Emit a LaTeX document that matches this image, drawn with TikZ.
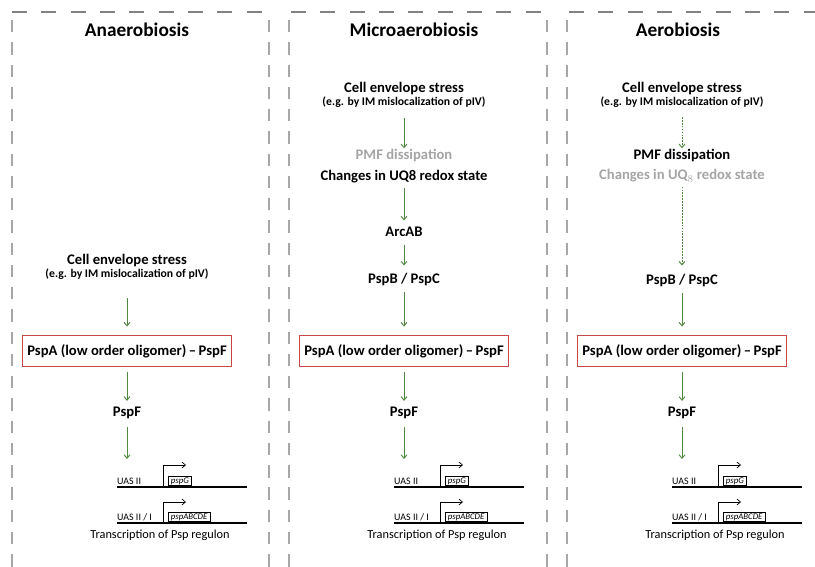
\documentclass[tikz,border=0pt]{standalone}
\usepackage{fontspec}
\setmainfont{Carlito}
\usepackage{xcolor}
\usetikzlibrary{arrows.meta, positioning}

\definecolor{arrowgreen}{RGB}{80,135,65}
\definecolor{boxred}{RGB}{200,70,70}
\definecolor{fadedgray}{RGB}{165,165,165}
\definecolor{framegray}{RGB}{130,130,130}

\begin{document}
\begin{tikzpicture}[>={Straight Barb[length=3pt,width=5pt]}, x=0.03cm, y=-0.03cm,
  title/.style={font=\fontsize{16.5}{20}\selectfont\bfseries, inner sep=0pt},
  label/.style={font=\fontsize{12.5}{14}\selectfont\bfseries, inner sep=0pt},
  faded/.style={label, text=fadedgray},
  eg/.style={font=\fontsize{10}{12}\selectfont\bfseries, inner sep=0pt},
  complex/.style={draw=boxred, line width=1pt, minimum width=178pt, minimum height=27pt,
    font=\fontsize{12.5}{14}\selectfont\bfseries, inner sep=0pt},
  gene/.style={draw, line width=0.5pt, font=\fontsize{7.5}{8}\selectfont\itshape,
    inner xsep=2.2pt, inner ysep=1pt, anchor=south west},
  uas/.style={font=\fontsize{8.5}{9}\selectfont, anchor=base west, inner sep=0pt},
  note/.style={font=\fontsize{10.5}{12}\selectfont, inner sep=0pt},
  garrow/.style={->, draw=arrowgreen, line width=0.8pt},
  darrow/.style={garrow, dash pattern=on 1.5pt off 1pt},
  dna/.style={line width=1.8pt},
  prom/.style={->, line width=0.6pt},
  frametop/.style={draw=framegray, line width=1.2pt, dash pattern=on 12.75pt off 12.3pt},
  frameside/.style={draw=framegray!70, line width=1pt, dash pattern=on 10.5pt off 8.5pt}]

  \useasboundingbox (0,0) rectangle (815,567);

  % Panel frames
  \draw[frametop] (12,12) -- (271,12);
  \draw[frametop] (291,12) -- (550,12);
  \draw[frametop] (569,12) -- (815,12);
  \foreach \x in {12,269,289,547,567}
    \draw[frameside] (\x,20) -- (\x,567);

  % Titles
  \node[title] (tAnaer) at (137,30) {Anaerobiosis};
  \node[title] (tMicro) at (414,30) {Microaerobiosis};
  \node[title] (tAer)   at (678,30) {Aerobiosis};

  % Common part: PspA-PspF, PspF and the Psp promoters
  \foreach \c/\i in {127/1, 404/2, 682/3} {
    \node[complex] (box\i) at (\c,351) {PspA (low order oligomer)\,--\,PspF};
    \node[label] (pspf\i) at (\c,413) {PspF};
    \coordinate (gene\i) at (\c,459);
    \draw[garrow, shorten <=4.3pt, shorten >=5.1pt] (box\i) -- (pspf\i);
    \draw[garrow, shorten <=6.8pt] (pspf\i) -- (gene\i);

    \coordinate (dnaA\i) at (\c-10,487);
    \coordinate (dnaB\i) at (\c-10,523);
    \node[uas] (uasA\i) at (\c-10,484) {UAS II};
    \node[uas] (uasB\i) at (\c-10,520) {UAS II / I};
    \draw[dna] (dnaA\i) -- ++(130,0);
    \draw[dna] (dnaB\i) -- ++(130,0);
    \node[gene] (pspG\i) at (\c+41,486) {pspG};
    \node[gene] (pspABCDE\i) at (\c+41,522) {pspABCDE};
    \draw[prom] (\c+36,486) -- ++(0,-21) -- ++(23,0);
    \draw[prom] (\c+36,522) -- ++(0,-20) -- ++(23,0);
    \node[note] (transcr\i) at (\c+33,535) {Transcription of Psp regulon};
  }

  % Anaerobiosis
  \node[label] (stress1) at (127,261) {Cell envelope stress};
  \node[eg]    (eg1)     at (127,274) {(e.g. by IM mislocalization of pIV)};

  % Microaerobiosis
  \node[label] (stress2)  at (404,89)  {Cell envelope stress};
  \node[eg]    (eg2)      at (404,102) {(e.g. by IM mislocalization of pIV)};
  \node[faded] (pmf2)     at (404,156) {PMF dissipation};
  \node[label] (changes2) at (404,177) {Changes in UQ8 redox state};
  \node[label] (arcab2)   at (404,232) {ArcAB};
  \node[label] (pspbc2)   at (404,280) {PspB / PspC};

  % Aerobiosis
  \node[label] (stress3)  at (682,89)  {Cell envelope stress};
  \node[eg]    (eg3)      at (682,102) {(e.g. by IM mislocalization of pIV)};
  \node[label] (pmf3)     at (682,156) {PMF dissipation};
  \node[faded] (changes3) at (682,176) {Changes in UQ$_8$ redox state};
  \node[label] (pspbc3)   at (682,281) {PspB / PspC};

  % Signalling arrows
  \draw[garrow, shorten <=16pt, shorten >=6.8pt] (eg1) -- (box1);
  \draw[garrow, shorten <=9pt, shorten >=1pt] (eg2) -- (pmf2);
  \draw[garrow, shorten <=3.4pt, shorten >=5.5pt] (changes2) -- (arcab2);
  \draw[garrow, shorten <=6.4pt, shorten >=6.8pt] (arcab2) -- (pspbc2);
  \draw[garrow, shorten <=5pt, shorten >=6.8pt] (pspbc2) -- (box2);
  \draw[darrow, shorten <=8pt, shorten >=1pt] (eg3) -- (pmf3);
  \draw[darrow, shorten <=3.4pt, shorten >=7.6pt] (changes3) -- (pspbc3);
  \draw[garrow, shorten <=4.3pt, shorten >=6.8pt] (pspbc3) -- (box3);

\end{tikzpicture}
\end{document}
